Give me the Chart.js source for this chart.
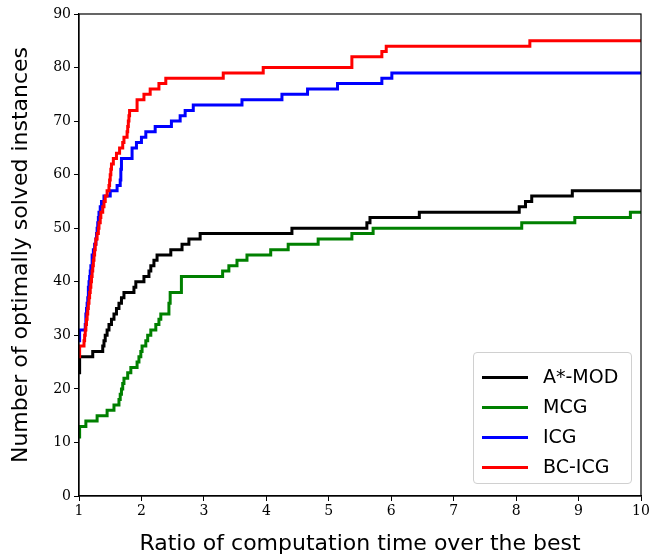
<!DOCTYPE html>
<html>
<head>
<meta charset="utf-8">
<script src="https://cdn.jsdelivr.net/npm/chart.js@4"></script>
<style>
  body { margin: 0; background: #fff; }
  .wrap { position: relative; width: 652px; height: 557px; }
  .legend {
    position: absolute; left: 473px; top: 352px; width: 159px; height: 132px;
    border: 1px solid #d0d0d0; border-radius: 4px; background: rgba(255,255,255,0.8);
    box-sizing: border-box; padding: 8px 0 0 8px;
    font-family: "DejaVu Sans", sans-serif; font-size: 19px; color: #000;
  }
  .legend div { height: 30px; line-height: 30px; white-space: nowrap; }
  .legend span { display: inline-block; width: 46px; height: 3px; vertical-align: middle; margin-right: 15px; }
</style>
</head>
<body>
<div class="wrap">
  <canvas id="perf" width="652" height="557"></canvas>
  <div class="legend" id="legend"></div>
</div>
<script>
// series names and colours
const names = ['A*-MOD', 'MCG', 'ICG', 'BC-ICG'];
const colors = ['#000000', '#008000', '#0000ff', '#ff0000'];

// [ratio, solved] - value jumps to "solved" at "ratio"
const aStarMod = [[1,23],[1.01,26],[1.22,27],[1.38,28],[1.40,29],[1.42,30],[1.45,31],[1.48,32],[1.52,33],
  [1.56,34],[1.60,35],[1.64,36],[1.68,37],[1.72,38],[1.88,39],[1.91,40],[2.04,41],[2.12,42],[2.15,43],
  [2.20,44],[2.25,45],[2.47,46],[2.65,47],[2.76,48],[2.94,49],[4.41,50],[5.61,51],[5.66,52],[6.45,53],
  [8.05,54],[8.15,55],[8.25,56],[8.90,57],[10,57]];
const mcg = [[1,11],[1.01,13],[1.11,14],[1.29,15],[1.45,16],[1.56,17],[1.64,18],[1.66,19],[1.68,20],
  [1.70,21],[1.72,22],[1.78,23],[1.83,24],[1.93,25],[1.96,26],[1.99,27],[2.01,28],[2.07,29],[2.10,30],
  [2.15,31],[2.23,32],[2.28,33],[2.31,34],[2.44,36],[2.46,38],[2.64,41],[3.30,42],[3.40,43],[3.53,44],
  [3.69,45],[4.07,46],[4.35,47],[4.83,48],[5.37,49],[5.71,50],[8.09,51],[8.94,52],[9.83,53],[10,53]];
const icg = [[1,29],[1.01,31],[1.10,32],[1.11,34],[1.12,35],[1.13,36],[1.14,37],[1.15,39],[1.16,40],
  [1.17,41],[1.18,42],[1.19,43],[1.21,45],[1.23,46],[1.25,47],[1.27,48],[1.28,49],[1.29,50],[1.30,51],
  [1.31,52],[1.32,53],[1.34,54],[1.36,55],[1.40,56],[1.50,57],[1.61,58],[1.66,59],[1.67,61],[1.68,63],
  [1.85,65],[1.92,66],[2.00,67],[2.07,68],[2.22,69],[2.48,70],[2.62,71],[2.70,72],[2.83,73],[3.61,74],
  [4.25,75],[4.66,76],[5.14,77],[5.85,78],[6.01,79],[10,79]];
const bcIcg = [[1,26],[1.01,28],[1.08,29],[1.09,30],[1.10,31],[1.11,32],[1.12,33],[1.13,34],[1.14,35],
  [1.15,36],[1.16,37],[1.17,38],[1.18,39],[1.19,40],[1.20,41],[1.21,42],[1.22,43],[1.23,44],[1.24,45],
  [1.25,46],[1.26,47],[1.27,48],[1.29,49],[1.31,50],[1.32,51],[1.34,52],[1.35,53],[1.38,54],[1.40,55],
  [1.42,56],[1.45,57],[1.48,58],[1.49,59],[1.50,60],[1.51,61],[1.52,62],[1.55,63],[1.60,64],[1.65,65],
  [1.70,66],[1.72,67],[1.77,68],[1.78,69],[1.79,70],[1.80,71],[1.81,72],[1.93,74],[2.04,75],[2.14,76],
  [2.28,77],[2.39,78],[3.31,79],[3.95,80],[5.37,82],[5.85,83],[5.92,84],[8.22,85],[10,85]];

const series = [aStarMod, mcg, icg, bcIcg];

const datasets = series.map((s, i) => ({
  label: names[i],
  data: s.map(p => ({ x: p[0], y: p[1] })),
  borderColor: colors[i],
  backgroundColor: colors[i],
  borderWidth: 3,
  pointRadius: 0,
  stepped: 'before',
  fill: false,
  order: 3 - i
}));

// html legend
const legend = document.getElementById('legend');
names.forEach((n, i) => {
  const row = document.createElement('div');
  row.innerHTML = '<span style="background:' + colors[i] + '"></span>' + n;
  legend.appendChild(row);
});

// full box round the plot, like the matplotlib spines
const frame = {
  id: 'frame',
  afterDraw(chart) {
    const a = chart.chartArea, ctx = chart.ctx;
    ctx.save();
    ctx.strokeStyle = '#000';
    ctx.lineWidth = 1.2;
    ctx.strokeRect(a.left, a.top, a.right - a.left, a.bottom - a.top);
    ctx.restore();
  }
};

const tickFont = { family: '"DejaVu Serif", serif', size: 14 };
const titleFont = { family: '"DejaVu Sans", sans-serif', size: 22 };

new Chart(document.getElementById('perf'), {
  type: 'line',
  data: { datasets: datasets },
  options: {
    responsive: false,
    animation: false,
    layout: { padding: { top: 14, right: 11, left: 0, bottom: 0 } },
    plugins: { legend: { display: false }, tooltip: { enabled: false } },
    scales: {
      x: {
        type: 'linear', min: 1, max: 10,
        ticks: { stepSize: 1, color: '#000', font: tickFont, padding: 2 },
        grid: { drawOnChartArea: false, color: '#000', tickLength: 5 },
        border: { color: '#000', width: 1.2 },
        title: { display: true, text: 'Ratio of computation time over the best', color: '#000', font: titleFont, padding: { top: 4, bottom: 0 } },
        afterFit(scale) { scale.height = 61; }
      },
      y: {
        min: 0, max: 90,
        ticks: { stepSize: 10, color: '#000', font: tickFont, padding: 3 },
        grid: { drawOnChartArea: false, color: '#000', tickLength: 5 },
        border: { color: '#000', width: 1.2 },
        title: { display: true, text: 'Number of optimally solved instances', color: '#000', font: titleFont, padding: { top: 8, bottom: 4 } },
        afterFit(scale) { scale.width = 79; }
      }
    }
  },
  plugins: [frame]
});
</script>
</body>
</html>
